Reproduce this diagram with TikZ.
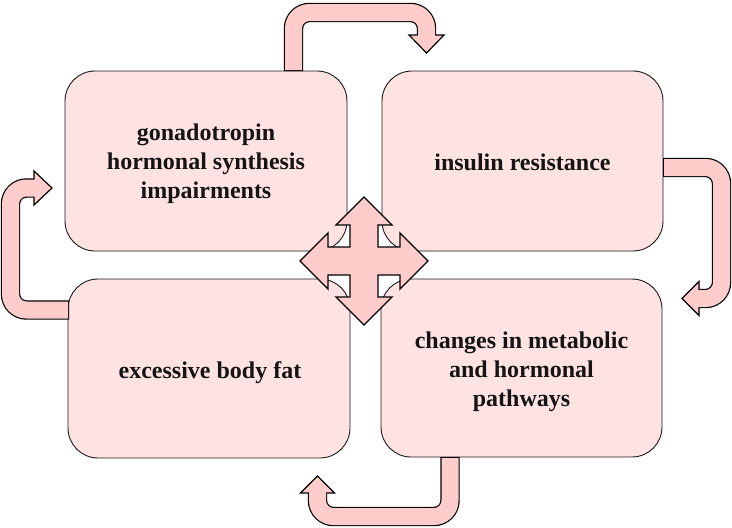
\documentclass[tikz,border=0pt]{standalone}
\usepackage{fontspec}
\setmainfont{Liberation Serif}
\definecolor{boxpink}{HTML}{FFE3E3}
\definecolor{arrpink}{HTML}{FFCCCC}
\definecolor{txt}{HTML}{141414}
\begin{document}
\begin{tikzpicture}[x=1pt,y=-1pt,
  box/.style={draw=black!90, line width=0.9pt, fill=boxpink, rounded corners=30pt, inner sep=0pt},
  lbl/.style={align=center, text=txt, font=\bfseries\fontsize{24}{29}\selectfont, inner sep=0pt},
  shaftout/.style={draw=black, line width=19.4pt, rounded corners=16pt, line cap=butt},
  shaftin/.style={draw=arrpink, line width=17pt, rounded corners=16pt, line cap=butt},
  headtip/.style={fill=arrpink, draw=black, line width=1.2pt, line join=miter},
  quad/.style={fill=arrpink, draw=black, line width=1.4pt, line join=miter}]
\useasboundingbox (0,0) rectangle (732,528);
% boxes
\node[box, minimum width=282pt, minimum height=180pt] (tl) at (206,161) {};
\node[box, minimum width=281pt, minimum height=180pt] (tr) at (522.5,161) {};
\node[box, minimum width=282pt, minimum height=179pt] (bl) at (209,368.5) {};
\node[box, minimum width=281pt, minimum height=178pt] (br) at (521.5,368) {};
\node[lbl] (tlt) at (206,164) {gonadotropin\\hormonal synthesis\\impairments};
\node[lbl] (trt) at (522.5,162.5) {insulin resistance};
\node[lbl] (blt) at (210,372.5) {excessive body fat};
\node[lbl] (brt) at (521.5,371.5) {changes in metabolic\\and hormonal\\pathways};
% arrow 1: top-left -> top-right
\coordinate (a1s) at (293.5,71);
\coordinate (a1p) at (293.5,70);
\coordinate (a1k1) at (293.5,12.5);
\coordinate (a1k2) at (426.5,12.5);
\coordinate (a1e) at (426.5,35);
\coordinate (a1f) at (426.5,38);
\draw[shaftout] (a1s) -- (a1k1) -- (a1k2) -- (a1e);
\draw[headtip] (409,35) -- (426.5,53) -- (444,35) -- cycle;
\draw[shaftin] (a1p) -- (a1k1) -- (a1k2) -- (a1f);
% arrow 2: top-right -> bottom-right
\coordinate (a2s) at (663,167.5);
\coordinate (a2p) at (664,167.5);
\coordinate (a2k1) at (721.5,167.5);
\coordinate (a2k2) at (721.5,298.5);
\coordinate (a2e) at (699,298.5);
\coordinate (a2f) at (696,298.5);
\draw[shaftout] (a2s) -- (a2k1) -- (a2k2) -- (a2e);
\draw[headtip] (699,281.5) -- (682,298.5) -- (699,315.5) -- cycle;
\draw[shaftin] (a2p) -- (a2k1) -- (a2k2) -- (a2f);
% arrow 3: bottom-right -> bottom-left
\coordinate (a3s) at (450,457);
\coordinate (a3p) at (450,458);
\coordinate (a3k1) at (450,516.5);
\coordinate (a3k2) at (317.5,516.5);
\coordinate (a3e) at (317.5,493);
\coordinate (a3f) at (317.5,490);
\draw[shaftout] (a3s) -- (a3k1) -- (a3k2) -- (a3e);
\draw[headtip] (300.5,493) -- (317.5,476) -- (334.5,493) -- cycle;
\draw[shaftin] (a3p) -- (a3k1) -- (a3k2) -- (a3f);
% arrow 4: bottom-left -> top-left
\coordinate (a4s) at (69,310);
\coordinate (a4p) at (68,310);
\coordinate (a4k1) at (10.5,310);
\coordinate (a4k2) at (10.5,188);
\coordinate (a4e) at (34,188);
\coordinate (a4f) at (37,188);
\draw[shaftout] (a4s) -- (a4k1) -- (a4k2) -- (a4e);
\draw[headtip] (34,171) -- (52,188) -- (34,205) -- cycle;
\draw[shaftin] (a4p) -- (a4k1) -- (a4k2) -- (a4f);
% central four-way arrow
\coordinate (c) at (364,261);
\begin{scope}[shift={(c)}]
\draw[quad] (0,-64) -- (28,-36) -- (14,-36) -- (14,-14) -- (36,-14) -- (36,-28)
  -- (64,0) -- (36,28) -- (36,14) -- (14,14) -- (14,36) -- (28,36)
  -- (0,64) -- (-28,36) -- (-14,36) -- (-14,14) -- (-36,14) -- (-36,28)
  -- (-64,0) -- (-36,-28) -- (-36,-14) -- (-14,-14) -- (-14,-36) -- (-28,-36) -- cycle;
\end{scope}
\end{tikzpicture}
\end{document}
